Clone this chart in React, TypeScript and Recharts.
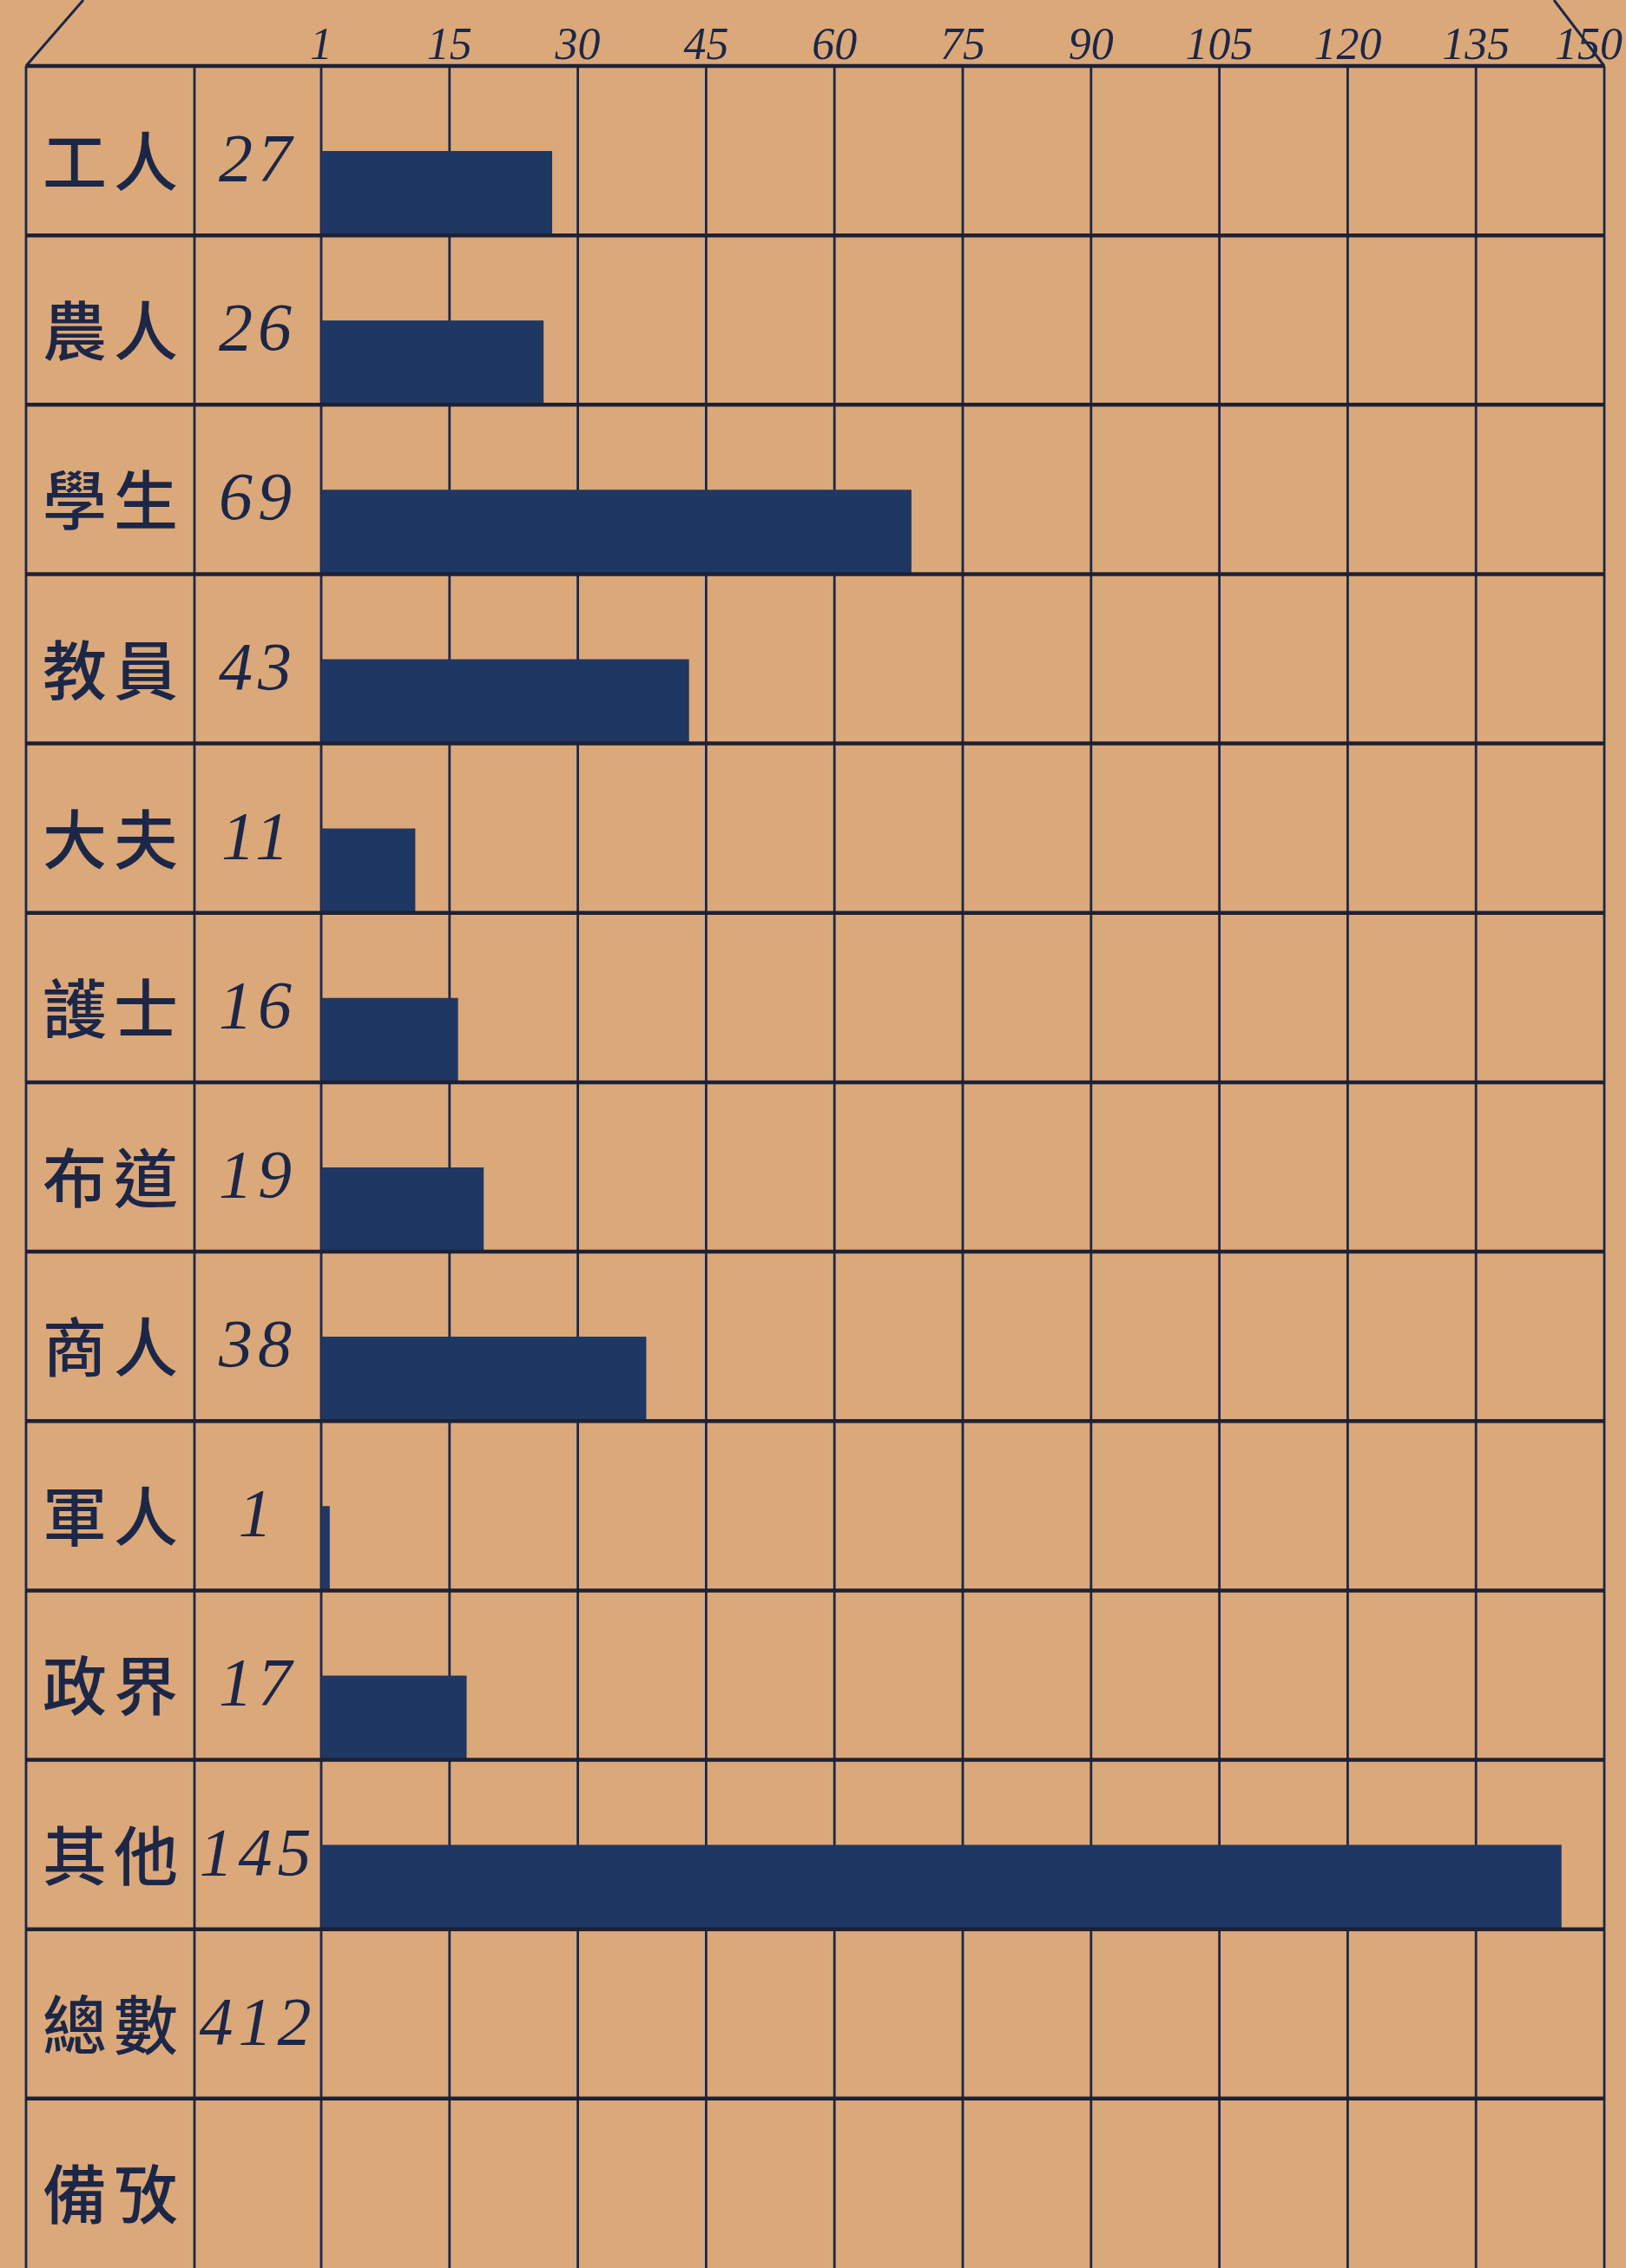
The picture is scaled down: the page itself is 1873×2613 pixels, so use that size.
import React from 'react';
import { BarChart, Bar, XAxis, YAxis, CartesianGrid, ReferenceLine, Customized } from 'recharts';

// values
const occupations = ['工人', '農人', '學生', '教員', '大夫', '護士', '布道', '商人', '軍人', '政界', '其他'];
const counts = [27, 26, 69, 43, 11, 16, 19, 38, 1, 17, 145];
const totalLabel = '總數';
const remarksLabel = '備攷';
const scaleTicks = [0, 15, 30, 45, 60, 75, 90, 105, 120, 135, 150];

const total = counts.reduce((sum, v) => sum + v, 0); // 412

const rows = [
  ...occupations.map((name, i) => ({ name, count: counts[i], bar: counts[i] })),
  { name: totalLabel, count: total, bar: null },
  { name: remarksLabel, count: null, bar: null },
];

const W = 1873;
const H = 2613;
const TOP = 76;
const LEFT_EDGE = 30;
const LABEL_DIV = 224;
const PLOT_LEFT = 370;
const PLOT_RIGHT = 1848;

const PAPER = '#dba87a';
const INK = '#1c2748';
const RULE = '#1d2135';
const BAR = '#1e3763';

const cjkFont = '"Noto Sans CJK TC", "Noto Sans CJK SC", sans-serif';
const handFont = '"Liberation Serif", "DejaVu Serif", serif';

const ScaleTick = ({ x, y, payload }: any) => {
  // the last figure is squeezed against the sheet's right edge
  const last = payload.value === scaleTicks[scaleTicks.length - 1];
  return (
    <text
      x={last ? Math.min(x + 30, W - 4) : x}
      y={y}
      textAnchor={last ? 'end' : 'middle'}
      fill={INK}
      style={{ fontFamily: handFont, fontStyle: 'italic', fontSize: 52 }}
    >
      {payload.value === 0 ? '1' : payload.value}
    </text>
  );
};

const RowTick = ({ y, payload }: any) => {
  const row = rows.find(r => r.name === payload.value);
  return (
    <g>
      <text
        x={(LEFT_EDGE + LABEL_DIV) / 2 + 4}
        y={y + 8}
        textAnchor="middle"
        dominantBaseline="central"
        fill={INK}
        style={{ fontFamily: cjkFont, fontSize: 74, fontWeight: 500, letterSpacing: 8 }}
      >
        {payload.value}
      </text>
      {row && row.count != null && (
        <text
          x={(LABEL_DIV + PLOT_LEFT) / 2}
          y={y + 8}
          textAnchor="middle"
          dominantBaseline="central"
          fill={INK}
          style={{ fontFamily: handFont, fontStyle: 'italic', fontSize: 78, letterSpacing: 6 }}
        >
          {row.count}
        </text>
      )}
    </g>
  );
};

// row rule stretched across the label columns too
const RowRule = (p: any) => (
  <line x1={LEFT_EDGE} y1={p.y1} x2={p.x2} y2={p.y2} stroke={RULE} strokeWidth={4.5} />
);

// outer frame: label column borders and the tag-shaped top corners
const Frame = () => (
  <g fill="none" stroke={INK}>
    <line x1={LEFT_EDGE} y1={TOP} x2={LEFT_EDGE} y2={H} strokeWidth={2.8} />
    <line x1={LABEL_DIV} y1={TOP} x2={LABEL_DIV} y2={H} strokeWidth={2.8} />
    <line x1={LEFT_EDGE} y1={TOP} x2={LEFT_EDGE + 66} y2={0} strokeWidth={3} />
    <line x1={PLOT_RIGHT} y1={TOP} x2={PLOT_RIGHT - 58} y2={0} strokeWidth={3} />
  </g>
);

export default function App() {
  return (
    <div style={{ width: W, height: H, background: PAPER, overflow: 'hidden' }}>
      <style>{'body{margin:0}'}</style>
      <BarChart
        width={W}
        height={H}
        data={rows}
        layout="vertical"
        margin={{ top: 0, right: W - PLOT_RIGHT, bottom: 0, left: LEFT_EDGE }}
        barCategoryGap={0}
        barGap={0}
      >
        <CartesianGrid horizontal={false} stroke={INK} strokeWidth={2.8} />
        <XAxis
          type="number"
          orientation="top"
          domain={[0, 150]}
          ticks={scaleTicks}
          height={TOP}
          axisLine={false}
          tickLine={false}
          tickSize={6}
          tickMargin={2}
          tick={<ScaleTick />}
          interval={0}
        />
        <YAxis
          type="category"
          dataKey="name"
          width={PLOT_LEFT - LEFT_EDGE}
          axisLine={false}
          tickLine={false}
          tick={<RowTick />}
          interval={0}
        />
        <Bar dataKey={() => 0} fill="transparent" isAnimationActive={false} />
        <Bar dataKey="bar" fill={BAR} isAnimationActive={false} />
        {rows.map(r => (
          <ReferenceLine key={r.name} y={r.name} position="start" shape={RowRule} />
        ))}
        <Customized component={<Frame />} />
      </BarChart>
    </div>
  );
}
